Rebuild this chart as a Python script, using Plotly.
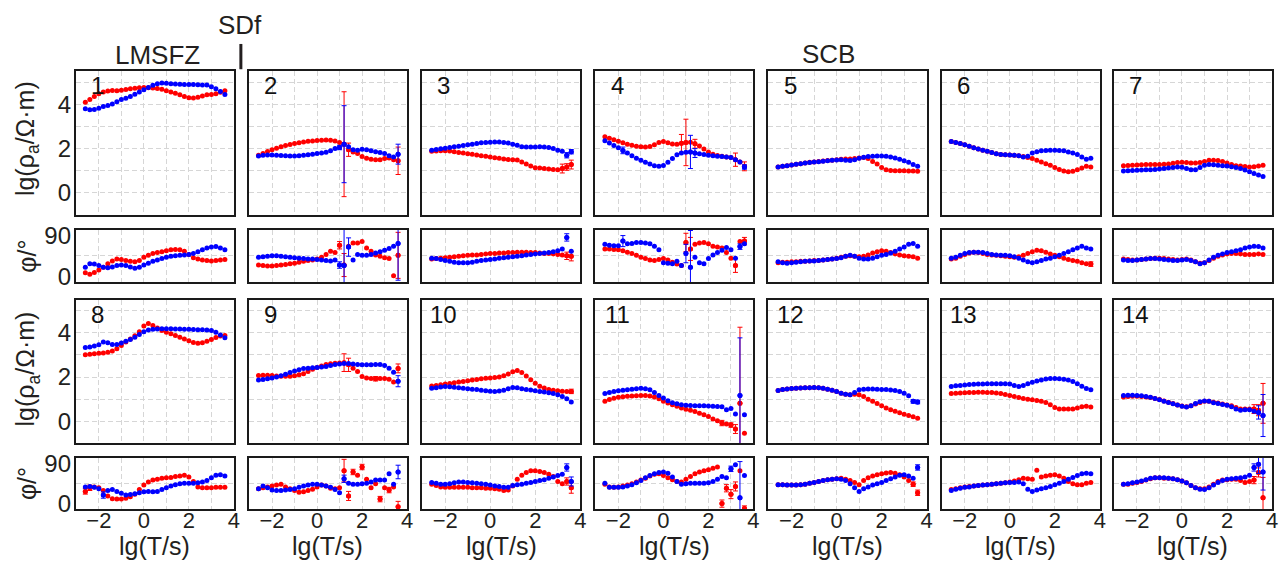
import plotly.graph_objects as go

W, H = 1286, 569
FONT = "Liberation Sans, Arial, sans-serif"
TXT = "#231f20"
RED = "#ff0000"
BLUE = "#0000ff"

# ---------------- data: lg(T/s) sampling ----------------
LG_T = [-2.6, -2.4, -2.2, -2.0, -1.8, -1.6, -1.4, -1.2,
        -1.0, -0.8, -0.6, -0.4, -0.2, 0.0, 0.2, 0.4,
        0.6, 0.8, 1.0, 1.2, 1.4, 1.6, 1.8, 2.0,
        2.2, 2.4, 2.6, 2.8, 3.0, 3.2, 3.4, 3.6]

X_TICKVALS = [-3, -2, -1, 0, 1, 2, 3, 4]
X_TICKTEXT = ["", "\u22122", "", "0", "", "2", "", "4"]
RHO_TICKVALS = [-1, 0, 1, 2, 3, 4, 5]
RHO_TICKTEXT = ["", "0", "", "2", "", "4", ""]
PHI_TICKVALS = [0, 90]
PHI_TICKTEXT = ["0", "90"]
STATION_LABELS = ["1", "2", "3", "4", "5", "6", "7",
                  "8", "9", "10", "11", "12", "13", "14"]

# ---------------- station 1 ----------------
RHO_RED_01 = [4.10, 4.22, 4.36, 4.48, 4.56, 4.60, 4.63, 4.62, 4.64, 4.67, 4.70, 4.73, 4.75, 4.76, 4.75, 4.74,
              4.72, 4.68, 4.62, 4.56, 4.50, 4.43, 4.36, 4.30, 4.29, 4.32, 4.38, 4.43, 4.45, 4.48, 4.55, 4.62]
RHO_BLUE_01 = [3.80, 3.76, 3.77, 3.82, 3.90, 3.95, 4.02, 4.12, 4.22, 4.28, 4.36, 4.46, 4.56, 4.66, 4.76, 4.86,
               4.93, 4.96, 4.95, 4.93, 4.92, 4.91, 4.90, 4.90, 4.90, 4.89, 4.88, 4.87, 4.80, 4.70, 4.58, 4.45]
PHI_RED_01 = [8, 5, 9, 14, 20, 28, 34, 38, 37, 35, 33, 32, 35, 42, 46, 50,
              52, 54, 56, 58, 59, 58, 55, 48, 41, 38, 36, 35, 34, 35, 36, 37]
PHI_BLUE_01 = [20, 28, 27, 24, 20, 19, 21, 24, 25, 24, 21, 18, 20, 25, 29, 33,
               36, 39, 42, 44, 45, 46, 47, 48, 50, 54, 58, 62, 64, 65, 62, 58]
# ---------------- station 2 ----------------
RHO_RED_02 = [1.70, 1.78, 1.87, 1.95, 2.02, 2.08, 2.14, 2.19, 2.23, 2.27, 2.30, 2.33, 2.35, 2.37, 2.38, 2.39,
              2.38, 2.34, 2.28, 2.20, 1.95, 1.85, 1.78, 1.64, 1.56, 1.52, 1.50, 1.50, 1.55, 1.58, 1.50, 1.45]
RHO_BLUE_02 = [1.67, 1.70, 1.71, 1.71, 1.70, 1.69, 1.68, 1.67, 1.67, 1.68, 1.70, 1.72, 1.75, 1.78, 1.80, 1.84,
               1.90, 2.00, 2.05, 2.20, 2.08, 1.95, 1.93, 1.97, 1.95, 1.90, 1.86, 1.82, 1.78, 1.68, 1.62, 1.75]
PHI_RED_02 = [25, 24, 23, 23, 24, 25, 26, 28, 29, 31, 33, 35, 36, 38, 42, 48,
              55, 52, 68, 25, 66, 73, 73, 76, 62, 55, 47, 44, 41, 39, 2, 46]
PHI_BLUE_02 = [42, 43, 44, 45, 45, 44, 43, 42, 41, 40, 39, 38, 38, 37, 36, 35,
               34, 36, 25, 24, 64, 36, 48, 46, 46, 48, 51, 54, 57, 61, 66, 72]
# ---------------- station 3 ----------------
RHO_RED_03 = [1.88, 1.89, 1.90, 1.90, 1.89, 1.86, 1.83, 1.80, 1.77, 1.74, 1.71, 1.68, 1.65, 1.62, 1.59, 1.56,
              1.53, 1.51, 1.50, 1.49, 1.40, 1.30, 1.22, 1.14, 1.12, 1.10, 1.08, 1.06, 1.05, 1.10, 1.17, 1.28]
RHO_BLUE_03 = [1.93, 1.96, 1.99, 2.02, 2.05, 2.08, 2.11, 2.14, 2.17, 2.20, 2.23, 2.26, 2.28, 2.29, 2.30, 2.30,
               2.28, 2.25, 2.20, 2.15, 2.08, 2.07, 2.07, 2.07, 2.08, 2.07, 2.05, 2.00, 1.93, 1.88, 1.70, 1.86]
PHI_RED_03 = [38, 39, 40, 41, 42, 43, 44, 45, 46, 47, 47, 48, 49, 50, 50, 51,
              51, 52, 52, 53, 53, 53, 52, 52, 51, 50, 50, 49, 48, 47, 45, 44]
PHI_BLUE_03 = [40, 39, 37, 35, 33, 31, 30, 30, 30, 31, 33, 35, 36, 37, 38, 40,
               41, 42, 43, 44, 45, 47, 48, 49, 50, 51, 52, 54, 56, 60, 85, 55]
# ---------------- station 4 ----------------
RHO_RED_04 = [2.54, 2.47, 2.40, 2.33, 2.26, 2.20, 2.15, 2.11, 2.08, 2.07, 2.10, 2.18, 2.28, 2.32, 2.27, 2.21,
              2.20, 2.24, 2.28, 2.29, 2.22, 2.12, 1.98, 1.85, 1.75, 1.69, 1.65, 1.62, 1.60, 1.50, 1.40, 1.20]
RHO_BLUE_04 = [2.36, 2.25, 2.14, 2.04, 1.92, 1.80, 1.68, 1.57, 1.47, 1.38, 1.30, 1.23, 1.20, 1.24, 1.38, 1.55,
               1.72, 1.80, 1.84, 1.85, 1.80, 1.77, 1.73, 1.70, 1.68, 1.66, 1.64, 1.62, 1.60, 1.50, 1.40, 1.17]
PHI_RED_04 = [60, 60, 59, 58, 56, 53, 50, 46, 42, 39, 36, 35, 37, 39, 36, 31,
              27, 24, 74, 60, 70, 73, 74, 71, 66, 64, 62, 52, 40, 24, 76, 77]
PHI_BLUE_04 = [70, 68, 67, 67, 77, 71, 72, 74, 74, 73, 71, 66, 58, 30, 29, 28,
               33, 24, 50, 20, 42, 30, 28, 39, 47, 52, 57, 63, 58, 40, 65, 71]
# ---------------- station 5 ----------------
RHO_RED_05 = [1.17, 1.20, 1.23, 1.26, 1.29, 1.32, 1.35, 1.38, 1.40, 1.42, 1.44, 1.46, 1.48, 1.50, 1.52, 1.53,
              1.53, 1.55, 1.58, 1.60, 1.55, 1.42, 1.30, 1.15, 1.05, 1.01, 1.00, 1.00, 1.00, 0.99, 0.99, 0.98]
RHO_BLUE_05 = [1.17, 1.20, 1.23, 1.26, 1.29, 1.32, 1.35, 1.37, 1.39, 1.41, 1.43, 1.45, 1.47, 1.49, 1.50, 1.48,
               1.46, 1.50, 1.56, 1.61, 1.64, 1.66, 1.67, 1.67, 1.65, 1.62, 1.58, 1.52, 1.45, 1.38, 1.28, 1.20]
PHI_RED_05 = [30, 31, 31, 32, 32, 33, 33, 34, 35, 35, 36, 37, 38, 40, 42, 44,
              45, 44, 43, 44, 47, 51, 54, 56, 55, 52, 49, 47, 45, 44, 43, 40]
PHI_BLUE_05 = [32, 30, 29, 30, 31, 32, 33, 34, 34, 35, 36, 37, 38, 39, 41, 44,
               46, 44, 40, 38, 38, 40, 43, 46, 48, 51, 55, 60, 64, 70, 72, 66]
# ---------------- station 6 ----------------
RHO_RED_06 = [2.32, 2.28, 2.23, 2.17, 2.11, 2.04, 1.98, 1.93, 1.88, 1.82, 1.77, 1.73, 1.72, 1.71, 1.70, 1.68,
              1.64, 1.60, 1.55, 1.48, 1.40, 1.32, 1.25, 1.15, 1.06, 0.99, 0.95, 0.98, 1.04, 1.12, 1.20, 1.17]
RHO_BLUE_06 = [2.32, 2.28, 2.23, 2.17, 2.11, 2.04, 1.98, 1.93, 1.88, 1.82, 1.77, 1.73, 1.72, 1.71, 1.70, 1.68,
               1.62, 1.66, 1.80, 1.86, 1.90, 1.92, 1.93, 1.93, 1.92, 1.90, 1.85, 1.80, 1.73, 1.62, 1.52, 1.57]
PHI_RED_06 = [38, 40, 44, 48, 51, 53, 52, 50, 48, 47, 46, 45, 44, 43, 42, 43,
              46, 50, 54, 57, 56, 53, 49, 46, 43, 40, 37, 35, 33, 30, 28, 27]
PHI_BLUE_06 = [40, 42, 46, 50, 52, 53, 53, 52, 50, 48, 47, 46, 46, 45, 43, 40,
               36, 32, 30, 32, 35, 38, 40, 43, 46, 50, 54, 58, 62, 66, 62, 60]
# ---------------- station 7 ----------------
RHO_RED_07 = [1.23, 1.24, 1.25, 1.26, 1.27, 1.28, 1.28, 1.28, 1.28, 1.29, 1.31, 1.34, 1.37, 1.38, 1.37, 1.35,
              1.35, 1.37, 1.42, 1.47, 1.48, 1.46, 1.42, 1.35, 1.28, 1.23, 1.21, 1.19, 1.17, 1.18, 1.21, 1.25]
RHO_BLUE_07 = [0.99, 1.00, 1.01, 1.02, 1.03, 1.04, 1.05, 1.06, 1.08, 1.10, 1.12, 1.15, 1.17, 1.16, 1.10, 1.04,
               1.05, 1.15, 1.25, 1.28, 1.27, 1.25, 1.23, 1.21, 1.18, 1.15, 1.10, 1.03, 0.95, 0.88, 0.81, 0.74]
PHI_RED_07 = [38, 37, 36, 36, 37, 38, 39, 40, 40, 39, 38, 37, 36, 37, 38, 36,
              32, 29, 30, 35, 40, 44, 47, 49, 50, 50, 49, 48, 48, 48, 49, 48]
PHI_BLUE_07 = [36, 35, 35, 36, 37, 38, 39, 39, 38, 37, 36, 35, 35, 36, 37, 35,
               32, 28, 30, 36, 42, 46, 49, 52, 54, 56, 58, 62, 64, 66, 65, 62]
# ---------------- station 8 ----------------
RHO_RED_08 = [3.01, 3.03, 3.05, 3.07, 3.09, 3.12, 3.18, 3.28, 3.42, 3.58, 3.72, 3.86, 4.05, 4.30, 4.42, 4.33,
              4.22, 4.10, 4.02, 3.95, 3.88, 3.80, 3.72, 3.64, 3.56, 3.53, 3.55, 3.62, 3.70, 3.78, 3.85, 3.88]
RHO_BLUE_08 = [3.33, 3.36, 3.40, 3.46, 3.58, 3.55, 3.47, 3.47, 3.54, 3.62, 3.70, 3.80, 3.92, 4.05, 4.12, 4.16,
               4.17, 4.18, 4.18, 4.18, 4.17, 4.17, 4.16, 4.16, 4.15, 4.14, 4.14, 4.13, 4.10, 4.02, 3.90, 3.77]
PHI_RED_08 = [28, 36, 38, 36, 30, 18, 12, 11, 11, 13, 16, 22, 32, 42, 49, 53,
              55, 57, 58, 59, 61, 62, 64, 60, 50, 38, 36, 36, 36, 37, 37, 37]
PHI_BLUE_08 = [38, 39, 37, 34, 20, 30, 32, 28, 24, 20, 21, 23, 25, 27, 28, 27,
               28, 32, 36, 40, 43, 45, 46, 46, 46, 47, 49, 52, 58, 64, 65, 62]
# ---------------- station 9 ----------------
RHO_RED_09 = [2.07, 2.08, 2.08, 2.07, 2.05, 2.03, 2.03, 2.04, 2.06, 2.10, 2.15, 2.25, 2.35, 2.43, 2.50, 2.56,
              2.60, 2.62, 2.63, 2.65, 2.55, 2.40, 2.25, 2.02, 1.96, 1.93, 1.92, 1.93, 1.93, 1.90, 1.78, 2.39]
RHO_BLUE_09 = [1.86, 1.89, 1.92, 1.95, 2.00, 2.06, 2.13, 2.20, 2.27, 2.33, 2.38, 2.40, 2.42, 2.43, 2.45, 2.48,
               2.52, 2.56, 2.59, 2.61, 2.61, 2.59, 2.57, 2.55, 2.55, 2.55, 2.56, 2.57, 2.52, 2.40, 2.22, 1.81]
PHI_RED_09 = [34, 36, 38, 40, 42, 44, 38, 34, 30, 26, 27, 30, 33, 38, 42, 40,
              35, 34, 36, 74, 18, 71, 64, 82, 55, 36, 45, 11, 36, 31, 38, -6]
PHI_BLUE_09 = [34, 40, 36, 31, 30, 30, 31, 32, 34, 37, 40, 42, 44, 44, 42, 40,
               37, 32, 25, 56, 46, 44, 44, 45, 46, 49, 53, 53, 53, 67, 44, 71]
# ---------------- station 10 ----------------
RHO_RED_10 = [1.59, 1.62, 1.65, 1.68, 1.71, 1.74, 1.77, 1.80, 1.83, 1.86, 1.89, 1.92, 1.94, 1.96, 1.98, 2.00,
              2.06, 2.14, 2.24, 2.29, 2.20, 2.05, 1.88, 1.72, 1.58, 1.50, 1.44, 1.40, 1.38, 1.36, 1.35, 1.35]
RHO_BLUE_10 = [1.49, 1.52, 1.55, 1.57, 1.56, 1.54, 1.51, 1.49, 1.47, 1.45, 1.43, 1.40, 1.38, 1.36, 1.35, 1.37,
               1.40, 1.47, 1.53, 1.52, 1.47, 1.44, 1.41, 1.38, 1.35, 1.32, 1.29, 1.26, 1.20, 1.12, 1.02, 0.87]
PHI_RED_10 = [44, 41, 38, 37, 37, 37, 37, 37, 37, 36, 36, 36, 35, 35, 34, 33,
              30, 31, 40, 55, 64, 70, 74, 74, 72, 70, 66, 61, 50, 45, 50, 36]
PHI_BLUE_10 = [48, 46, 44, 44, 45, 47, 49, 49, 48, 47, 46, 45, 44, 42, 40, 39,
               37, 37, 41, 43, 44, 46, 48, 50, 52, 54, 57, 60, 63, 66, 81, 50]
# ---------------- station 11 ----------------
RHO_RED_11 = [0.91, 0.98, 1.04, 1.08, 1.11, 1.13, 1.14, 1.15, 1.16, 1.16, 1.14, 1.10, 1.02, 0.90, 0.82, 0.75,
              0.68, 0.60, 0.54, 0.50, 0.44, 0.36, 0.30, 0.22, 0.10, 0.02, -0.08, -0.12, -0.17, -0.35, 0.81, -0.54]
RHO_BLUE_11 = [1.25, 1.30, 1.34, 1.38, 1.40, 1.42, 1.45, 1.47, 1.49, 1.47, 1.42, 1.30, 1.17, 1.05, 0.93, 0.84,
               0.79, 0.75, 0.72, 0.71, 0.70, 0.70, 0.70, 0.69, 0.68, 0.67, 0.66, 0.52, 0.58, 0.33, 1.17, 0.29]
PHI_RED_11 = [44, 38, 37, 38, 40, 42, 45, 49, 53, 57, 62, 66, 67, 63, 58, 54,
              50, 49, 55, 61, 67, 71, 74, 76, 79, 82, 1, 35, 22, 39, 74, -10]
PHI_BLUE_11 = [46, 37, 37, 37, 38, 40, 43, 47, 52, 58, 63, 67, 70, 71, 68, 60,
               50, 44, 45, 46, 46, 46, 46, 47, 50, 55, 61, 58, 78, 87, 14, 63]
# ---------------- station 12 ----------------
RHO_RED_12 = [1.39, 1.43, 1.46, 1.48, 1.49, 1.50, 1.51, 1.52, 1.53, 1.52, 1.49, 1.45, 1.40, 1.34, 1.27, 1.22,
              1.20, 1.22, 1.20, 1.12, 1.00, 0.90, 0.80, 0.70, 0.60, 0.52, 0.45, 0.38, 0.32, 0.26, 0.20, 0.14]
RHO_BLUE_12 = [1.39, 1.43, 1.46, 1.48, 1.49, 1.50, 1.51, 1.52, 1.53, 1.52, 1.49, 1.45, 1.40, 1.34, 1.27, 1.22,
               1.20, 1.30, 1.42, 1.45, 1.46, 1.46, 1.45, 1.44, 1.43, 1.41, 1.39, 1.35, 1.27, 1.15, 0.90, 0.87]
PHI_RED_12 = [43, 43, 42, 42, 42, 43, 44, 46, 48, 50, 52, 54, 55, 56, 57, 55,
              52, 48, 43, 52, 58, 62, 65, 67, 69, 70, 68, 65, 60, 52, 44, 25]
PHI_BLUE_12 = [43, 43, 42, 42, 42, 43, 44, 46, 48, 50, 52, 54, 55, 56, 55, 52,
               45, 36, 28, 34, 38, 42, 45, 48, 52, 56, 60, 64, 65, 62, 57, 81]
# ---------------- station 13 ----------------
RHO_RED_13 = [1.25, 1.27, 1.28, 1.29, 1.30, 1.30, 1.31, 1.31, 1.30, 1.30, 1.28, 1.25, 1.21, 1.17, 1.12, 1.07,
              1.03, 1.00, 0.97, 0.94, 0.91, 0.85, 0.75, 0.62, 0.56, 0.55, 0.55, 0.55, 0.60, 0.66, 0.68, 0.64]
RHO_BLUE_13 = [1.57, 1.60, 1.62, 1.64, 1.66, 1.67, 1.68, 1.68, 1.69, 1.69, 1.69, 1.69, 1.69, 1.68, 1.62, 1.57,
               1.62, 1.70, 1.76, 1.82, 1.87, 1.91, 1.93, 1.93, 1.92, 1.90, 1.86, 1.80, 1.70, 1.58, 1.48, 1.42]
PHI_RED_13 = [32, 34, 36, 38, 39, 40, 41, 42, 43, 44, 45, 46, 47, 49, 51, 54,
              57, 56, 55, 75, 60, 62, 64, 65, 62, 57, 50, 45, 43, 43, 46, 48]
PHI_BLUE_13 = [30, 33, 35, 37, 38, 40, 41, 42, 43, 44, 45, 46, 47, 48, 48, 49,
               45, 33, 28, 31, 34, 36, 39, 43, 46, 50, 55, 59, 63, 67, 68, 67]
# ---------------- station 14 ----------------
RHO_RED_14 = [1.10, 1.12, 1.13, 1.13, 1.12, 1.10, 1.07, 1.03, 0.98, 0.92, 0.86, 0.80, 0.74, 0.69, 0.66, 0.70,
              0.78, 0.85, 0.90, 0.90, 0.86, 0.82, 0.78, 0.74, 0.70, 0.62, 0.56, 0.55, 0.55, 0.55, 0.50, 0.81]
RHO_BLUE_14 = [1.17, 1.18, 1.18, 1.17, 1.15, 1.12, 1.08, 1.03, 0.97, 0.91, 0.85, 0.79, 0.73, 0.68, 0.65, 0.70,
               0.80, 0.88, 0.92, 0.90, 0.84, 0.80, 0.76, 0.72, 0.66, 0.56, 0.50, 0.52, 0.52, 0.45, 0.40, 0.26]
PHI_RED_14 = [44, 44, 46, 48, 50, 53, 56, 58, 58, 57, 57, 56, 54, 51, 47, 41,
              36, 34, 34, 38, 44, 50, 53, 54, 55, 55, 52, 48, 50, 53, 70, 14]
PHI_BLUE_14 = [44, 45, 47, 49, 51, 54, 57, 58, 58, 58, 57, 56, 54, 51, 47, 41,
               36, 33, 32, 36, 42, 48, 52, 55, 56, 57, 58, 60, 64, 81, 88, 71]

# ---------------- error bars (index in LG_T -> half length) ----------------
ERR_RHO_RED = {2: {19: 2.37, 20: 0.3, 31: 0.62}, 3: {29: 0.2, 30: 0.15, 31: 0.2},
               4: {17: 0.4, 18: 1.05, 20: 0.2, 29: 0.3, 31: 0.2}, 9: {19: 0.4, 20: 0.3, 26: 0.1, 31: 0.2},
               10: {31: 0.1}, 11: {26: 0.12, 28: 0.1, 29: 0.2, 30: 3.44}, 14: {29: 0.2, 30: 0.25, 31: 0.9}}
ERR_RHO_BLUE = {2: {18: 0.1, 19: 1.74, 31: 0.45}, 3: {30: 0.12, 31: 0.1},
                4: {4: 0.15, 19: 0.75, 20: 0.2, 31: 0.1}, 9: {31: 0.25}, 11: {30: 2.6},
                12: {30: 0.08, 31: 0.08}, 14: {30: 0.3, 31: 0.95}}
ERR_PHI_RED = {2: {18: 8, 19: 25, 31: 50}, 3: {30: 8, 31: 10}, 4: {18: 20, 19: 25, 29: 15, 31: 8},
               6: {31: 5}, 8: {0: 6, 1: 6}, 9: {19: 25, 20: 10, 21: 6, 23: 6, 27: 6, 29: 6, 31: 12},
               10: {30: 8, 31: 12}, 11: {26: 8, 27: 8, 28: 10, 29: 10, 31: 6}, 12: {30: 5, 31: 6},
               14: {29: 8, 30: 10, 31: 45}}
ERR_PHI_BLUE = {2: {18: 7, 19: 80, 20: 20, 31: 80}, 3: {30: 8}, 4: {4: 12, 18: 20, 19: 80, 30: 6},
                8: {4: 7}, 9: {19: 8, 31: 15}, 10: {30: 8, 31: 10}, 11: {28: 6, 30: 80},
                12: {31: 6}, 14: {29: 8, 30: 20, 31: 40}}

RHO_RED = [RHO_RED_01, RHO_RED_02, RHO_RED_03, RHO_RED_04, RHO_RED_05, RHO_RED_06, RHO_RED_07,
           RHO_RED_08, RHO_RED_09, RHO_RED_10, RHO_RED_11, RHO_RED_12, RHO_RED_13, RHO_RED_14]
RHO_BLUE = [RHO_BLUE_01, RHO_BLUE_02, RHO_BLUE_03, RHO_BLUE_04, RHO_BLUE_05, RHO_BLUE_06, RHO_BLUE_07,
            RHO_BLUE_08, RHO_BLUE_09, RHO_BLUE_10, RHO_BLUE_11, RHO_BLUE_12, RHO_BLUE_13, RHO_BLUE_14]
PHI_RED = [PHI_RED_01, PHI_RED_02, PHI_RED_03, PHI_RED_04, PHI_RED_05, PHI_RED_06, PHI_RED_07,
           PHI_RED_08, PHI_RED_09, PHI_RED_10, PHI_RED_11, PHI_RED_12, PHI_RED_13, PHI_RED_14]
PHI_BLUE = [PHI_BLUE_01, PHI_BLUE_02, PHI_BLUE_03, PHI_BLUE_04, PHI_BLUE_05, PHI_BLUE_06, PHI_BLUE_07,
            PHI_BLUE_08, PHI_BLUE_09, PHI_BLUE_10, PHI_BLUE_11, PHI_BLUE_12, PHI_BLUE_13, PHI_BLUE_14]

# ---------------- layout geometry (pixels) ----------------
COL_LEFT = [76, 250, 424, 598, 772, 946, 1119]
PANEL_W = 159
ROW_RHO = [(65, 213), (300, 448)]
ROW_PHI = [(228, 282), (463, 516)]


def fx(p):
    return p / W


def fy(p):
    return 1 - p / H


fig = go.Figure()
layout = dict(width=W, height=H, margin=dict(l=0, r=0, t=0, b=0),
              paper_bgcolor="white", plot_bgcolor="white", showlegend=False,
              font=dict(family=FONT, color=TXT))
annotations = []
GRID_COLOR = "#d6d6d6"
GRID = dict(showgrid=True, gridcolor=GRID_COLOR, gridwidth=1, griddash="5px,3px")
LINE = dict(showline=True, mirror=True, linecolor="#1a1a1a", linewidth=1.6, zeroline=False,
            ticks="", ticklen=0)
TICKFONT = dict(size=24, family=FONT, color=TXT)
XTICKFONT = dict(size=22, family=FONT, color=TXT)

for s in range(14):
    row, col = divmod(s, 7)
    left = COL_LEFT[col]
    st = s + 1
    for j, kind in enumerate(("rho", "phi")):
        n = 2 * s + j + 1
        xname = "x" if n == 1 else f"x{n}"
        yname = "y" if n == 1 else f"y{n}"
        top, bot = (ROW_RHO if kind == "rho" else ROW_PHI)[row]
        xa = dict(domain=[fx(left), fx(left + PANEL_W)], anchor=yname, range=[-3.03, 4.0],
                  tickmode="array", tickvals=X_TICKVALS, ticktext=X_TICKTEXT,
                  showticklabels=(kind == "phi" and row == 1), ticklabelstandoff=-10,
                  tickfont=XTICKFONT, **GRID, **LINE)
        if kind == "rho":
            ya = dict(domain=[fy(bot), fy(top)], anchor=xname, range=[-1, 5.5],
                      tickmode="array", tickvals=RHO_TICKVALS, ticktext=RHO_TICKTEXT,
                      showticklabels=(col == 0), tickfont=TICKFONT, ticklabelstandoff=-2,
                      **GRID, **LINE)
            red, blue = RHO_RED[s], RHO_BLUE[s]
            ered, eblue = ERR_RHO_RED.get(st, {}), ERR_RHO_BLUE.get(st, {})
        else:
            ya = dict(domain=[fy(bot), fy(top)], anchor=xname, range=[-12, 102],
                      tickmode="array", tickvals=PHI_TICKVALS, ticktext=PHI_TICKTEXT,
                      showticklabels=(col == 0), tickfont=TICKFONT, ticklabelstandoff=-2,
                      showgrid=False,
                      minor=dict(tickmode="array", tickvals=[45], showgrid=True, gridcolor=GRID_COLOR,
                                 gridwidth=1, griddash="5px,3px", ticks=""),
                      **LINE)
            red, blue = PHI_RED[s], PHI_BLUE[s]
            ered, eblue = ERR_PHI_RED.get(st, {}), ERR_PHI_BLUE.get(st, {})
        layout["xaxis" if n == 1 else f"xaxis{n}"] = xa
        layout["yaxis" if n == 1 else f"yaxis{n}"] = ya

        for vals, errs, color in ((red, ered, RED), (blue, eblue, BLUE)):
            fig.add_trace(go.Scatter(x=LG_T, y=vals, mode="markers", xaxis=xname, yaxis=yname,
                                     marker=dict(size=5, color=color, line=dict(width=0)),
                                     hoverinfo="skip"))
            if errs:
                idx = sorted(errs)
                fig.add_trace(go.Scatter(x=[LG_T[i] for i in idx], y=[vals[i] for i in idx],
                                         mode="markers", xaxis=xname, yaxis=yname,
                                         marker=dict(size=5, color=color, line=dict(width=0)),
                                         error_y=dict(type="data", array=[errs[i] for i in idx],
                                                      color=color, thickness=1, width=2.5),
                                         hoverinfo="skip"))

    # station number
    rtop = ROW_RHO[row][0]
    annotations.append(dict(text=STATION_LABELS[s], x=fx(left + 22), y=fy(rtop + 15), xref="paper",
                            yref="paper", xanchor="center", yanchor="middle", showarrow=False,
                            font=dict(size=24, color="#111", family=FONT)))
    # x title under bottom row
    if row == 1:
        annotations.append(dict(text="lg(T/s)", x=fx(left + PANEL_W / 2), y=fy(554), xref="paper",
                                yref="paper", xanchor="center", yanchor="middle", showarrow=False,
                                font=dict(size=25, color=TXT, family=FONT)))

# y titles
for ymid in (134, 371):
    annotations.append(dict(text="lg(\u03c1<sub>a</sub>/\u03a9\u00b7m)", x=fx(27), y=fy(ymid), xref="paper",
                            yref="paper", xanchor="center", yanchor="middle", textangle=-90,
                            showarrow=False, font=dict(size=25, color=TXT, family=FONT)))
for ymid in (255, 489):
    annotations.append(dict(text="\u03c6/\u00b0", x=fx(27), y=fy(ymid), xref="paper",
                            yref="paper", xanchor="center", yanchor="middle", textangle=-90,
                            showarrow=False, font=dict(size=25, color=TXT, family=FONT)))

# top labels
annotations.append(dict(text="LMSFZ", x=fx(158), y=fy(48), xref="paper", yref="paper",
                        xanchor="center", yanchor="middle", showarrow=False,
                        font=dict(size=26, color=TXT, family=FONT)))
annotations.append(dict(text="SDf", x=fx(241), y=fy(17), xref="paper", yref="paper",
                        xanchor="center", yanchor="middle", showarrow=False,
                        font=dict(size=26, color=TXT, family=FONT)))
annotations.append(dict(text="SCB", x=fx(832), y=fy(47), xref="paper", yref="paper",
                        xanchor="center", yanchor="middle", showarrow=False,
                        font=dict(size=26, color=TXT, family=FONT)))

layout["annotations"] = annotations
layout["shapes"] = [dict(type="line", xref="paper", yref="paper", x0=fx(242), x1=fx(242),
                         y0=fy(37), y1=fy(63), line=dict(color=TXT, width=3))]

fig.update_layout(**layout)
fig.write_html("out.html")
